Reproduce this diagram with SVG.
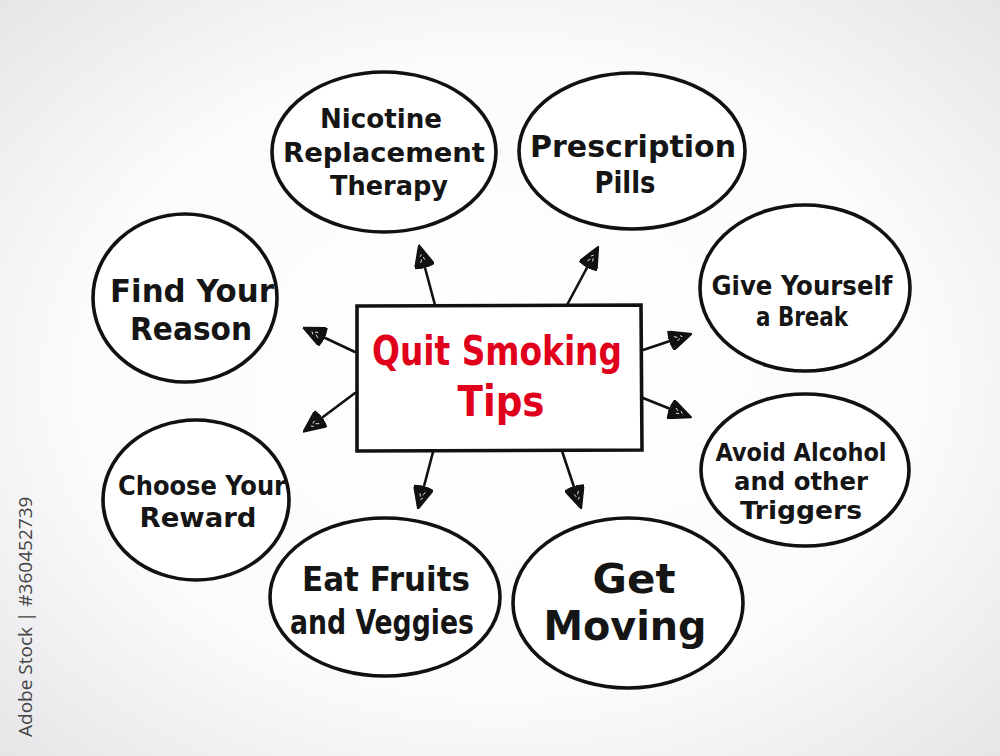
<svg xmlns="http://www.w3.org/2000/svg" width="1000" height="756" viewBox="0 0 1000 756">
<defs>
<radialGradient id="bg" cx="50%" cy="50%" r="70%">
<stop offset="0" stop-color="#ffffff"/>
<stop offset="0.6" stop-color="#fbfbfc"/>
<stop offset="1" stop-color="#e6e6e9"/>
</radialGradient>
<marker id="ah" viewBox="0 0 24 20" refX="4" refY="10" markerWidth="24" markerHeight="20" markerUnits="userSpaceOnUse" orient="auto">
<path d="M0,10 L2,0 L24,10 L2,20 Z" fill="#111" stroke="#111" stroke-width="1.5" stroke-linejoin="round"/>
<path d="M6,7 L9,9 M8,12 L11,11 M12,8 L14,10" stroke="#fff" stroke-width="0.8" fill="none"/>
</marker>
<style>
.n{fill:#fff;stroke:#111;stroke-width:3.6}
.t{font-family:"DejaVu Sans Condensed","DejaVu Sans",sans-serif;font-weight:bold;fill:#151515;text-anchor:middle}
.r{fill:#e0001b}
.c line{stroke:#111;stroke-width:2.6;stroke-linecap:round;marker-end:url(#ah)}
</style>
</defs>
<rect width="1000" height="756" fill="url(#bg)"/>
<text transform="translate(32,737) rotate(-90)" font-family="Open Sans, DejaVu Sans, sans-serif" font-size="19" fill="#444">Adobe Stock | #360452739</text>

<g class="c" id="connectors">
<line x1="435" y1="305" x2="424" y2="264"/>
<line x1="567" y1="305" x2="589" y2="264"/>
<line x1="355" y1="352" x2="321" y2="336"/>
<line x1="355" y1="393" x2="319" y2="420"/>
<line x1="643" y1="350" x2="673" y2="340"/>
<line x1="643" y1="398" x2="673" y2="410"/>
<line x1="433" y1="452" x2="423" y2="490"/>
<line x1="562" y1="451" x2="575" y2="490"/>
</g>

<g id="center">
<path class="n" d="M357,306 L641,305 L642,450 L357,451 Z"/>
<text class="t r" x="497" y="365" font-size="40" textLength="250" lengthAdjust="spacingAndGlyphs">Quit Smoking</text>
<text class="t r" x="501" y="416" font-size="42" textLength="87" lengthAdjust="spacingAndGlyphs">Tips</text>
</g>

<g id="nicotine">
<ellipse class="n" cx="384" cy="152" rx="112" ry="80"/>
<text class="t" x="381" y="128" font-size="27" textLength="122" lengthAdjust="spacingAndGlyphs">Nicotine</text>
<text class="t" x="384" y="162" font-size="27" textLength="202" lengthAdjust="spacingAndGlyphs">Replacement</text>
<text class="t" x="389" y="195" font-size="27" textLength="118" lengthAdjust="spacingAndGlyphs">Therapy</text>
</g>

<g id="prescription">
<ellipse class="n" cx="632" cy="151" rx="113" ry="78"/>
<text class="t" x="633" y="157" font-size="31" textLength="206" lengthAdjust="spacingAndGlyphs">Prescription</text>
<text class="t" x="625" y="193" font-size="31" textLength="61" lengthAdjust="spacingAndGlyphs">Pills</text>
</g>

<g id="reason">
<ellipse class="n" cx="185" cy="298" rx="92" ry="84"/>
<text class="t" x="192" y="302" font-size="32" textLength="164" lengthAdjust="spacingAndGlyphs">Find Your</text>
<text class="t" x="191" y="340" font-size="32" textLength="122" lengthAdjust="spacingAndGlyphs">Reason</text>
</g>

<g id="break">
<ellipse class="n" cx="805" cy="288" rx="105" ry="83"/>
<text class="t" x="802" y="295" font-size="26" textLength="181" lengthAdjust="spacingAndGlyphs">Give Yourself</text>
<text class="t" x="802" y="326" font-size="26" textLength="92" lengthAdjust="spacingAndGlyphs">a Break</text>
</g>

<g id="reward">
<ellipse class="n" cx="196" cy="500" rx="93" ry="80"/>
<text class="t" x="202" y="495" font-size="27" textLength="168" lengthAdjust="spacingAndGlyphs">Choose Your</text>
<text class="t" x="198" y="527" font-size="27" textLength="117" lengthAdjust="spacingAndGlyphs">Reward</text>
</g>

<g id="alcohol">
<ellipse class="n" cx="805" cy="470" rx="104" ry="76"/>
<text class="t" x="801" y="461" font-size="25" textLength="171" lengthAdjust="spacingAndGlyphs">Avoid Alcohol</text>
<text class="t" x="801" y="490" font-size="25" textLength="134" lengthAdjust="spacingAndGlyphs">and other</text>
<text class="t" x="801" y="519" font-size="25" textLength="122" lengthAdjust="spacingAndGlyphs">Triggers</text>
</g>

<g id="fruits">
<ellipse class="n" cx="385" cy="597" rx="115" ry="79"/>
<text class="t" x="386" y="591" font-size="33" textLength="168" lengthAdjust="spacingAndGlyphs">Eat Fruits</text>
<text class="t" x="382" y="634" font-size="33" textLength="184" lengthAdjust="spacingAndGlyphs">and Veggies</text>
</g>

<g id="moving">
<ellipse class="n" cx="628" cy="603" rx="115" ry="85"/>
<text class="t" x="634" y="593" font-size="40" textLength="83" lengthAdjust="spacingAndGlyphs">Get</text>
<text class="t" x="625" y="640" font-size="40" textLength="163" lengthAdjust="spacingAndGlyphs">Moving</text>
</g>
</svg>
